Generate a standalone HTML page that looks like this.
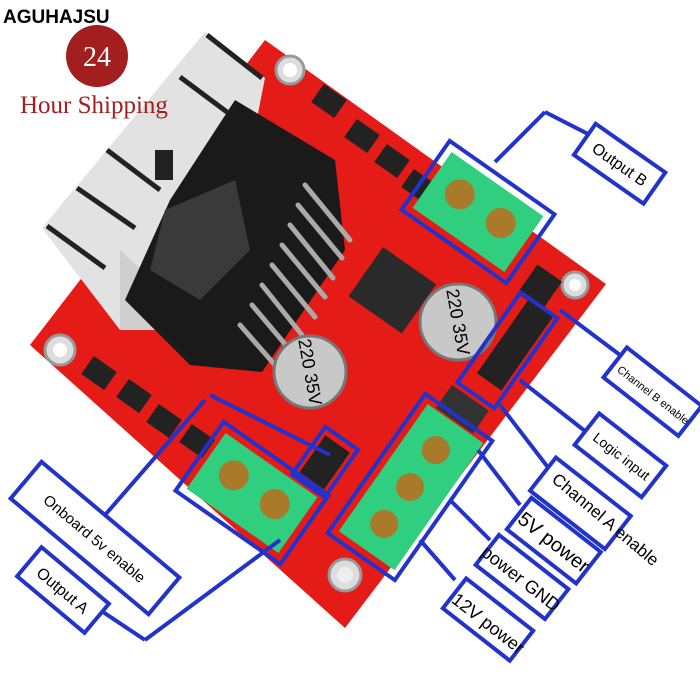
<!DOCTYPE html>
<html><head><style>
html,body{margin:0;padding:0;background:#fff;width:700px;height:700px;overflow:hidden}
svg{display:block}
text{font-family:"Liberation Sans",sans-serif}
</style></head><body>
<svg width="700" height="700" viewBox="0 0 700 700">
<!-- board -->
<polygon points="265,40 606,284 345,628 30,345" fill="#e41b17"/>
<!-- holes -->
<circle cx="290" cy="70" r="14" fill="#ddd" stroke="#999" stroke-width="3"/><circle cx="290" cy="70" r="7" fill="#fff"/>
<circle cx="575" cy="285" r="13" fill="#ddd" stroke="#999" stroke-width="3"/><circle cx="575" cy="285" r="6" fill="#fff"/>
<circle cx="60" cy="350" r="15" fill="#ddd" stroke="#999" stroke-width="3"/><circle cx="60" cy="350" r="7" fill="#fff"/>
<circle cx="345" cy="575" r="16" fill="#ddd" stroke="#999" stroke-width="3"/><circle cx="345" cy="575" r="8" fill="#eee"/>
<!-- heatsink plates -->
<polygon points="205,32 265,78 215,330 120,330 42,228" fill="#e2e2e2"/>
<polygon points="120,250 175,300 175,330 120,330" fill="#cfcfcf"/>
<g stroke="#222" stroke-width="5">
<line x1="207" y1="35" x2="262" y2="78"/>
<line x1="180" y1="77" x2="235" y2="118"/>
<line x1="107" y1="150" x2="160" y2="190"/>
<line x1="77" y1="188" x2="135" y2="228"/>
<line x1="47" y1="226" x2="105" y2="268"/>
</g>
<!-- chip -->
<polygon points="235,100 335,160 345,250 262,372 190,365 125,300 170,200" fill="#1a1a1a"/>
<polygon points="165,210 235,180 250,250 200,300 150,270" fill="#3a3a3a"/>
<rect x="155" y="150" width="18" height="30" fill="#222"/>
<g stroke="#aaa" stroke-width="5" stroke-linecap="round">
<line x1="305" y1="185" x2="350" y2="240"/><line x1="298" y1="205" x2="342" y2="258"/><line x1="290" y1="225" x2="333" y2="278"/><line x1="282" y1="245" x2="325" y2="297"/><line x1="272" y1="265" x2="315" y2="317"/><line x1="262" y1="285" x2="302" y2="335"/><line x1="252" y1="305" x2="290" y2="350"/><line x1="240" y1="325" x2="275" y2="365"/>
</g>
<!-- diodes -->
<g fill="#222">
<rect x="315" y="90" width="28" height="22" transform="rotate(35 329 101)"/>
<rect x="348" y="125" width="28" height="22" transform="rotate(35 362 136)"/>
<rect x="378" y="150" width="28" height="22" transform="rotate(35 392 161)"/>
<rect x="405" y="175" width="28" height="22" transform="rotate(35 419 186)"/>
<rect x="85" y="362" width="28" height="22" transform="rotate(35 99 373)"/>
<rect x="120" y="385" width="28" height="22" transform="rotate(35 134 396)"/>
<rect x="150" y="410" width="28" height="22" transform="rotate(35 164 421)"/>
<rect x="183" y="430" width="28" height="22" transform="rotate(35 197 441)"/>
</g>
<!-- regulator -->
<rect x="360" y="260" width="65" height="60" fill="#2a2a2a" transform="rotate(35 392 290)"/>
<!-- capacitors -->
<circle cx="458" cy="322" r="38" fill="#c8c8c8" stroke="#777" stroke-width="3"/>
<text x="458" y="328" font-size="18" transform="rotate(80 458 322)" text-anchor="middle">220 35V</text>
<circle cx="310" cy="372" r="36" fill="#c8c8c8" stroke="#777" stroke-width="3"/>
<text x="310" y="378" font-size="18" transform="rotate(80 310 372)" text-anchor="middle">220 35V</text>
<!-- jumpers -->
<rect x="310" y="440" width="30" height="45" fill="#222" transform="rotate(35 325 462)"/>
<rect x="500" y="300" width="30" height="90" fill="#222" transform="rotate(35 515 345)"/>
<rect x="525" y="270" width="30" height="35" fill="#222" transform="rotate(35 540 287)"/>
<rect x="440" y="395" width="45" height="28" fill="#333" transform="rotate(35 462 409)"/>
<!-- terminals -->
<g transform="rotate(35 478 212)">
<rect x="422" y="178" width="112" height="68" fill="#2fcf7f"/>
<circle cx="453" cy="208" r="15" fill="#a87a2a"/><circle cx="503" cy="208" r="15" fill="#a87a2a"/>
</g>
<g transform="rotate(35 252 493)">
<rect x="196" y="459" width="112" height="68" fill="#2fcf7f"/>
<circle cx="227" cy="489" r="15" fill="#a87a2a"/><circle cx="277" cy="489" r="15" fill="#a87a2a"/>
</g>
<g transform="rotate(-55 410 487)">
<rect x="333" y="454" width="155" height="68" fill="#2fcf7f"/>
<circle cx="365" cy="487" r="14" fill="#a87a2a"/><circle cx="410" cy="487" r="14" fill="#a87a2a"/><circle cx="455" cy="487" r="14" fill="#a87a2a"/>
</g>
<!-- blue frames on board -->
<g fill="none" stroke="#2233cc" stroke-width="4">
<rect x="414" y="170" width="128" height="84" transform="rotate(35 478 212)"/>
<rect x="188" y="451" width="128" height="84" transform="rotate(35 252 493)"/>
<rect x="325" y="446" width="170" height="82" transform="rotate(-55 410 487)"/>
<rect x="485" y="295" width="45" height="110" transform="rotate(35 507 350)"/>
<rect x="305" y="433" width="40" height="58" transform="rotate(35 325 462)"/>
<!-- connectors -->
<line x1="495" y1="162" x2="545" y2="112"/><line x1="545" y1="112" x2="590" y2="135"/>
<line x1="560" y1="310" x2="620" y2="355"/>
<line x1="520" y1="380" x2="590" y2="435"/>
<line x1="500" y1="405" x2="550" y2="470"/>
<line x1="478" y1="450" x2="520" y2="505"/>
<line x1="450" y1="500" x2="490" y2="540"/>
<line x1="420" y1="540" x2="455" y2="580"/>
<line x1="205" y1="400" x2="105" y2="515"/>
<line x1="280" y1="540" x2="145" y2="640"/><line x1="145" y1="640" x2="100" y2="610"/>
<line x1="330" y1="455" x2="210" y2="395"/>
</g>
<!-- label boxes -->
<g fill="#fff" stroke="#2233cc" stroke-width="4">
<rect x="577" y="145" width="85" height="38" transform="rotate(35 620 164)"/>
<rect x="605" y="373" width="95" height="38" transform="rotate(38 653 392)"/>
<rect x="578" y="435" width="85" height="40" transform="rotate(38 620 455)"/>
<rect x="533" y="482" width="95" height="42" transform="rotate(38 580 503)"/>
<rect x="510" y="520" width="88" height="40" transform="rotate(38 553 540)"/>
<rect x="478" y="558" width="88" height="38" transform="rotate(38 522 577)"/>
<rect x="445" y="600" width="85" height="38" transform="rotate(38 487 620)"/>
<rect x="5" y="514" width="180" height="48" transform="rotate(40 95 538)"/>
<rect x="19" y="571" width="88" height="38" transform="rotate(40 63 590)"/>
</g>
<g fill="#000">
<text x="620" y="170" font-size="16" text-anchor="middle" transform="rotate(35 620 164)">Output B</text>
<text x="655" y="398" font-size="11" text-anchor="middle" transform="rotate(38 653 392)">Channel B enable</text>
<text x="622" y="460" font-size="14" text-anchor="middle" transform="rotate(38 620 455)">Logic input</text>
<text x="605" y="525" font-size="17" text-anchor="middle" transform="rotate(40 605 520)">Channel A enable</text>
<text x="555" y="548" font-size="20" text-anchor="middle" transform="rotate(38 553 540)">5V power</text>
<text x="522" y="585" font-size="18" text-anchor="middle" transform="rotate(38 522 577)">power GND</text>
<text x="490" y="628" font-size="18" text-anchor="middle" transform="rotate(38 487 620)">12V power</text>
<text x="95" y="544" font-size="15" text-anchor="middle" transform="rotate(40 95 538)">Onboard 5v enable</text>
<text x="63" y="596" font-size="16" text-anchor="middle" transform="rotate(40 63 590)">Output A</text>
</g>
<!-- branding -->
<text x="3" y="23" font-size="19" font-weight="bold" fill="#000">AGUHAJSU</text>
<circle cx="97" cy="56" r="31" fill="#a31e1e"/>
<text x="97" y="66" font-size="28" fill="#fff" text-anchor="middle" style="font-family:'Liberation Serif',serif">24</text>
<text x="20" y="113" font-size="25" fill="#a31e1e" style="font-family:'Liberation Serif',serif">Hour Shipping</text>
</svg>
</body></html>
